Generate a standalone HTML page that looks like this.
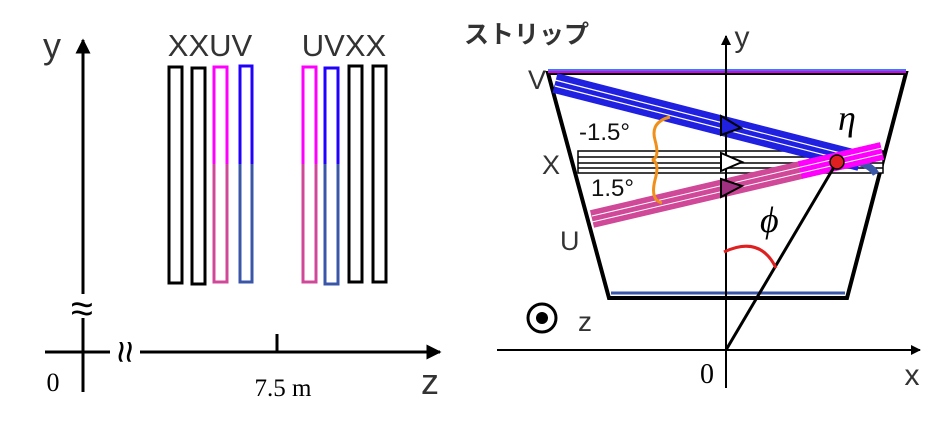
<!DOCTYPE html>
<html><head><meta charset="utf-8"><style>
html,body{margin:0;padding:0;background:#fff}
svg{display:block}
text{font-family:"Liberation Sans","Noto Sans CJK JP",sans-serif}
.serif{font-family:"Liberation Serif",serif}
</style></head><body>
<svg width="945" height="433" viewBox="0 0 945 433">
<defs>
<marker id="ar" viewBox="0 0 10 10" refX="9" refY="5" markerWidth="5" markerHeight="5" orient="auto"><path d="M0,0 L10,5 L0,10z" fill="#000"/></marker>
</defs>
<g>
<line x1="83" y1="392" x2="83" y2="318" stroke="#000" stroke-width="3"/>
<line x1="83" y1="294" x2="83" y2="40" stroke="#000" stroke-width="3" marker-end="url(#ar)"/>
<text x="82" y="322" font-size="40" text-anchor="middle">≈</text>
<line x1="45" y1="352" x2="110" y2="352" stroke="#000" stroke-width="3"/>
<line x1="140" y1="352" x2="440" y2="352" stroke="#000" stroke-width="3" marker-end="url(#ar)"/>
<text x="126" y="366" font-size="40" text-anchor="middle" transform="rotate(90 126 352)">≈</text>
<line x1="277" y1="334" x2="277" y2="352" stroke="#000" stroke-width="3"/>
<text x="53" y="391" class="serif" font-size="26" text-anchor="middle">0</text>
<text x="283" y="396" class="serif" font-size="25" text-anchor="middle">7.5 m</text>
<text x="430" y="394" font-size="36" fill="#333" text-anchor="middle">z</text>
<text x="52" y="58" font-size="36" fill="#333" text-anchor="middle">y</text>
<text x="210" y="56" font-size="31" fill="#333" text-anchor="middle">XXUV</text>
<text x="344" y="56" font-size="31" fill="#333" text-anchor="middle">UVXX</text>
<g fill="none" stroke-width="3">
<rect x="169" y="67" width="13" height="216" stroke="#000"/>
<rect x="192" y="68" width="13" height="216" stroke="#000"/>
<path d="M214,164 V67 H227 V164" stroke="#ff00ff"/>
<path d="M214,164 V282 H227 V164" stroke="#d04898"/>
<path d="M240,164 V66 H252 V164" stroke="#2000ff"/>
<path d="M240,164 V282 H252 V164" stroke="#3a56a8"/>
<path d="M303,164 V67 H316 V164" stroke="#ff00ff"/>
<path d="M303,164 V282 H316 V164" stroke="#d04898"/>
<path d="M325,164 V68 H338 V164" stroke="#2000ff"/>
<path d="M325,164 V284 H338 V164" stroke="#3a56a8"/>
<rect x="349" y="66" width="13" height="216" stroke="#000"/>
<rect x="373" y="66" width="13" height="216" stroke="#000"/>
</g>
</g>
<g>
<text x="464" y="43" font-size="25" font-weight="bold" fill="#333">ストリップ</text>
<line x1="548" y1="70" x2="906" y2="70" stroke="#3a7aff" stroke-width="2"/>
<line x1="611" y1="293" x2="845" y2="293" stroke="#3a56a8" stroke-width="3"/>
<polygon points="548,73 906,73 847,298 609,298" fill="none" stroke="#000" stroke-width="4"/>
<line x1="548" y1="72" x2="906" y2="72" stroke="#e000e0" stroke-width="2"/>
<g>
<rect x="578" y="151" width="305" height="22" fill="#fff" stroke="#000" stroke-width="1.5"/>
<line x1="578" y1="157" x2="883" y2="157" stroke="#000" stroke-width="1.5"/>
<line x1="578" y1="163" x2="883" y2="163" stroke="#000" stroke-width="1.5"/>
<line x1="578" y1="168" x2="883" y2="168" stroke="#000" stroke-width="1.5"/>
</g>
<g>
<line x1="555" y1="83" x2="860" y2="161" stroke="#2020e0" stroke-width="20"/>
<line x1="555" y1="80" x2="860" y2="158" stroke="#fff" stroke-width="1.2"/>
<line x1="555" y1="86" x2="860" y2="164" stroke="#fff" stroke-width="1.2"/>
<path d="M855,162 Q870,164 876,174" stroke="#3a56a8" stroke-width="7" fill="none"/>
</g>
<g>
<line x1="592" y1="219" x2="882" y2="151" stroke="#d04898" stroke-width="18"/>
<line x1="800" y1="170" x2="882" y2="151" stroke="#ff00ff" stroke-width="18"/>
<line x1="592" y1="216" x2="882" y2="148" stroke="#fff" stroke-width="1"/>
<line x1="592" y1="222" x2="882" y2="154" stroke="#fff" stroke-width="1"/>
</g>
<line x1="726" y1="388" x2="726" y2="36" stroke="#000" stroke-width="2" marker-end="url(#ar)"/>
<line x1="497" y1="350" x2="920" y2="350" stroke="#000" stroke-width="2" marker-end="url(#ar)"/>
<polygon points="721,116 741,128 721,135" fill="#2020e0" stroke="#000" stroke-width="2"/>
<polygon points="721,153 742,162 721,171" fill="#fff" stroke="#000" stroke-width="2"/>
<polygon points="721,179 742,186 721,197" fill="#a03080" stroke="#000" stroke-width="2"/>
<line x1="726" y1="350" x2="837" y2="162" stroke="#000" stroke-width="3"/>
<circle cx="837" cy="162" r="7" fill="#e02020" stroke="#000" stroke-width="1.5"/>
<path d="M724,252 Q760,235 776,268" fill="none" stroke="#e02020" stroke-width="3"/>
<path d="M670,117 Q650,122 655,140 Q660,158 652,160 Q660,162 655,180 Q650,200 662,203" fill="none" stroke="#f0901a" stroke-width="3"/>
<text x="528" y="89" font-size="27" fill="#333">V</text>
<text x="542" y="174" font-size="27" fill="#333">X</text>
<text x="560" y="250" font-size="27" fill="#333">U</text>
<text x="579" y="140" font-size="24" fill="#111">-1.5°</text>
<text x="591" y="196" font-size="24" fill="#111">1.5°</text>
<text x="838" y="130" class="serif" font-size="36" font-style="italic">η</text>
<text x="760" y="232" class="serif" font-size="36" font-style="italic">ϕ</text>
<circle cx="542" cy="318" r="14" fill="none" stroke="#000" stroke-width="3"/>
<circle cx="542" cy="318" r="6" fill="#000"/>
<text x="578" y="331" font-size="28" fill="#333">z</text>
<text x="707" y="383" class="serif" font-size="28" text-anchor="middle">0</text>
<text x="912" y="385" font-size="30" fill="#333" text-anchor="middle">x</text>
<text x="742" y="47" font-size="30" fill="#333" text-anchor="middle">y</text>
</g>
</svg>
</body></html>
